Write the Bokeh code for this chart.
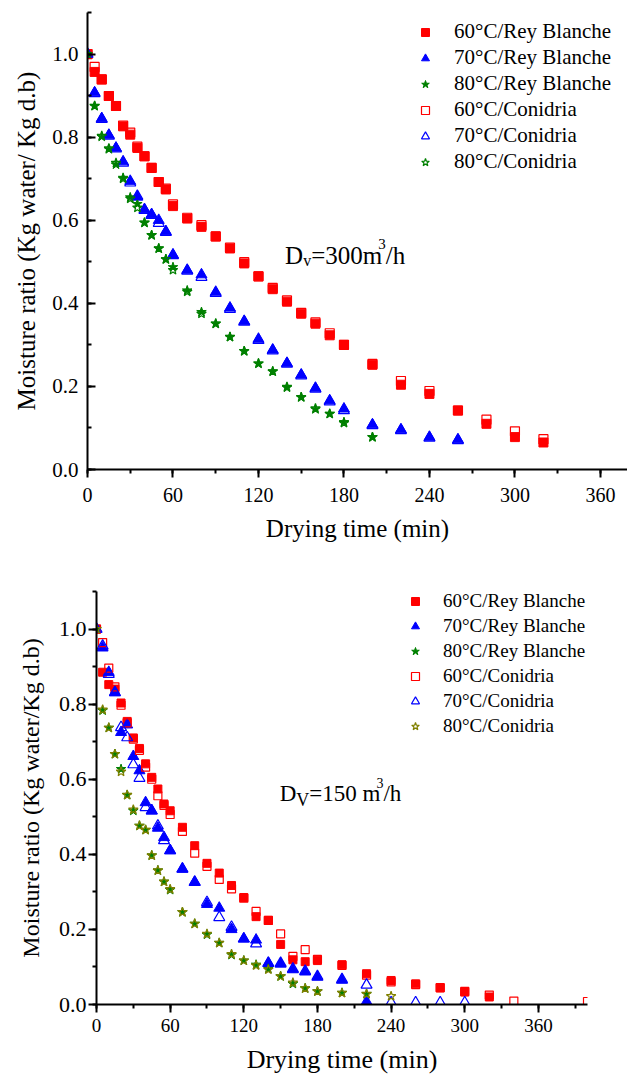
from bokeh.plotting import figure
from bokeh.layouts import column, row
from bokeh.models import (Range1d, SingleIntervalTicker, PrintfTickFormatter,
                          Legend, LegendItem, Label)
from bokeh.embed import file_html
from bokeh.resources import INLINE

FONT = "Liberation Serif"
RED = "#FF0000"
BLUE = "#0000FF"
GREEN = "#008000"
OLIVE = "#808000"

# ---------------- Data: Dv = 300 m3/h (top panel) ----------------
t60_300 = [0, 5, 10, 15, 20, 25, 30, 35, 40, 45, 50, 55, 60, 70, 80, 90, 100, 110, 120,
           130, 140, 150, 160, 170, 180, 200, 220, 240, 260, 280, 300, 320]
mr60_rb_300 = [1.0, 0.957, 0.939, 0.899, 0.875, 0.826, 0.806, 0.774, 0.754, 0.726, 0.692,
               0.674, 0.634, 0.604, 0.584, 0.561, 0.532, 0.496, 0.465, 0.434, 0.404, 0.375,
               0.351, 0.323, 0.300, 0.252, 0.204, 0.182, 0.142, 0.110, 0.078, 0.065]
mr60_co_300 = [1.0, 0.969, 0.939, 0.899, 0.875, 0.828, 0.811, 0.777, 0.754, 0.726, 0.692,
               0.676, 0.638, 0.606, 0.588, 0.561, 0.534, 0.499, 0.465, 0.437, 0.407, 0.377,
               0.354, 0.328, 0.300, 0.254, 0.213, 0.189, 0.142, 0.120, 0.092, 0.073]

t70_300 = [0, 5, 10, 15, 20, 25, 30, 35, 40, 45, 50, 55, 60, 70, 80, 90, 100, 110, 120,
           130, 140, 150, 160, 170, 180, 200, 220, 240, 260]
mr70_rb_300 = [1.0, 0.907, 0.845, 0.805, 0.774, 0.741, 0.694, 0.656, 0.626, 0.614, 0.600,
               0.573, 0.517, 0.480, 0.469, 0.427, 0.389, 0.357, 0.314, 0.288, 0.256, 0.228,
               0.196, 0.166, 0.146, 0.108, 0.096, 0.078, 0.072]
mr70_co_300 = [1.0, 0.905, 0.843, 0.803, 0.772, 0.738, 0.690, 0.658, 0.624, 0.612, 0.593,
               0.571, 0.515, 0.478, 0.463, 0.424, 0.386, 0.355, 0.311, 0.286, 0.254, 0.226,
               0.194, 0.163, 0.142, 0.106, 0.094, 0.076, 0.070]

t80_300 = [0, 5, 10, 15, 20, 25, 30, 35, 40, 45, 50, 55, 60, 70, 80, 90, 100, 110, 120,
           130, 140, 150, 160, 170, 180, 200]
mr80_rb_300 = [1.0, 0.875, 0.801, 0.771, 0.734, 0.702, 0.655, 0.639, 0.594, 0.564, 0.532,
               0.506, 0.487, 0.431, 0.379, 0.351, 0.319, 0.285, 0.255, 0.236, 0.197, 0.174,
               0.145, 0.134, 0.114, 0.078]
mr80_co_300 = [1.0, 0.875, 0.803, 0.773, 0.738, 0.700, 0.652, 0.630, 0.594, 0.564, 0.532,
               0.506, 0.480, 0.428, 0.375, 0.351, 0.319, 0.285, 0.255, 0.236, 0.199, 0.174,
               0.147, 0.134, 0.112, 0.078]

# ---------------- Data: Dv = 150 m3/h (bottom panel) ----------------
t60_rb_150 = [0, 5, 10, 15, 20, 25, 30, 35, 40, 45, 50, 55, 60, 70, 80, 90, 100, 110, 120,
              130, 140, 150, 160, 170, 180, 200, 220, 240, 260, 280, 300, 320]
mr60_rb_150 = [1.0, 0.885, 0.852, 0.840, 0.803, 0.754, 0.710, 0.682, 0.641, 0.605, 0.574,
               0.534, 0.516, 0.472, 0.423, 0.376, 0.350, 0.317, 0.285, 0.234, 0.224, 0.160,
               0.119, 0.114, 0.117, 0.106, 0.082, 0.064, 0.055, 0.044, 0.033, 0.020]
t60_co_150 = [0, 5, 10, 15, 20, 25, 30, 35, 40, 45, 50, 55, 60, 70, 80, 90, 100, 110, 120,
              130, 140, 150, 160, 170, 180, 200, 220, 240, 260, 280, 300, 320, 340, 400]
mr60_co_150 = [1.0, 0.964, 0.896, 0.846, 0.797, 0.750, 0.707, 0.677, 0.632, 0.600, 0.556,
               0.530, 0.506, 0.461, 0.403, 0.368, 0.333, 0.308, 0.283, 0.248, 0.224, 0.188,
               0.128, 0.146, 0.120, 0.104, 0.078, 0.060, 0.053, 0.045, 0.035, 0.025, 0.009,
               0.008]

t70_rb_150 = [0, 5, 10, 15, 20, 25, 30, 35, 40, 45, 50, 55, 60, 70, 80, 90, 100, 110, 120,
              130, 140, 150, 160, 170, 180, 200, 220]
mr70_rb_150 = [1.0, 0.950, 0.885, 0.831, 0.725, 0.745, 0.661, 0.623, 0.538, 0.516, 0.470,
               0.445, 0.410, 0.361, 0.326, 0.267, 0.257, 0.200, 0.175, 0.172, 0.110, 0.108,
               0.093, 0.087, 0.073, 0.065, 0.008]
t70_co_150 = [0, 5, 10, 15, 20, 25, 30, 35, 40, 45, 50, 55, 60, 70, 80, 90, 100, 110, 120,
              130, 140, 150, 160, 170, 180, 200, 220, 240, 260, 280, 300]
mr70_co_150 = [1.0, 0.955, 0.880, 0.831, 0.738, 0.711, 0.639, 0.603, 0.525, 0.516, 0.476,
               0.437, 0.410, 0.361, 0.326, 0.272, 0.232, 0.206, 0.175, 0.162, 0.110, 0.110,
               0.095, 0.089, 0.075, 0.067, 0.052, 0.005, 0.005, 0.005, 0.005]

t80_rb_150 = [0, 5, 10, 15, 20, 25, 30, 35, 40, 45, 50, 55, 60, 70, 80, 90, 100, 110, 120,
              130, 140, 150, 160, 170, 180, 200, 220]
mr80_rb_150 = [1.0, 0.783, 0.737, 0.667, 0.627, 0.558, 0.516, 0.476, 0.465, 0.397, 0.357,
               0.327, 0.305, 0.246, 0.215, 0.186, 0.164, 0.132, 0.117, 0.106, 0.095, 0.075,
               0.055, 0.043, 0.035, 0.031, 0.028]
t80_co_150 = [0, 5, 10, 15, 20, 25, 30, 35, 40, 45, 50, 55, 60, 70, 80, 90, 100, 110, 120,
              130, 140, 150, 160, 170, 180, 200, 220, 240]
mr80_co_150 = [1.0, 0.785, 0.737, 0.667, 0.620, 0.558, 0.519, 0.476, 0.465, 0.397, 0.357,
               0.327, 0.307, 0.246, 0.215, 0.188, 0.164, 0.134, 0.117, 0.104, 0.093, 0.075,
               0.058, 0.043, 0.035, 0.031, 0.028, 0.022]

labels = ["60\u00b0C/Rey Blanche", "70\u00b0C/Rey Blanche", "80\u00b0C/Rey Blanche",
          "60\u00b0C/Conidria", "70\u00b0C/Conidria", "80\u00b0C/Conidria"]
x_ticks_interval = 60
y_ticks_interval = 0.2

EM = {'D': .722, 'v': .5, 'V': .722, '=': .564, '0': .5, '1': .5, '3': .5, '5': .5,
      'm': .778, ' ': .25, '/': .278, 'h': .5}


def text_width(s, size):
    return sum(EM.get(c, .5) for c in s) * size


def rich_label(p, x, y, parts):
    off = 0.0
    for txt, size, dy, kern in parts:
        off += kern
        p.add_layout(Label(x=x, y=y, x_offset=off, y_offset=dy, text=txt,
                           text_font=FONT, text_font_size=f"{size}px",
                           text_color="black", text_align="left",
                           text_baseline="alphabetic"))
        off += text_width(txt, size)


def make_fig(width, height, xend, borders, ylabel, tick_dir_in_y,
             xtick_font, ytick_font, xtitle_font, ytitle_font, y_standoff, x_standoff,
             ylab_standoff, xlab_standoff):
    left, right, top, bottom = borders
    p = figure(width=width, height=height, output_backend="svg", toolbar_location=None,
               x_range=Range1d(0, xend), y_range=Range1d(0, 1.1),
               min_border_left=left, min_border_right=right,
               min_border_top=top, min_border_bottom=bottom)
    p.xgrid.visible = False
    p.ygrid.visible = False
    p.outline_line_color = None
    p.background_fill_color = "white"
    p.border_fill_color = "white"
    p.xaxis.ticker = SingleIntervalTicker(interval=x_ticks_interval, num_minor_ticks=2)
    p.yaxis.ticker = SingleIntervalTicker(interval=y_ticks_interval, num_minor_ticks=2)
    p.xaxis.formatter = PrintfTickFormatter(format="%d")
    p.yaxis.formatter = PrintfTickFormatter(format="%.1f")
    for ax in (p.xaxis, p.yaxis):
        ax.axis_line_width = 2
        ax.axis_line_color = "black"
        ax.major_tick_line_width = 2
        ax.minor_tick_line_width = 2
        ax.major_tick_line_color = "black"
        ax.minor_tick_line_color = "black"
        ax.major_label_text_font = FONT
        ax.axis_label_text_font = FONT
        ax.axis_label_text_font_style = "normal"
        ax.axis_label_text_color = "black"
        ax.major_label_text_color = "black"
    p.xaxis.axis_label_text_font_size = f"{xtitle_font}px"
    p.yaxis.axis_label_text_font_size = f"{ytitle_font}px"
    p.xaxis.major_label_text_font_size = f"{xtick_font}px"
    p.yaxis.major_label_text_font_size = f"{ytick_font}px"
    p.xaxis.major_tick_in = 0
    p.xaxis.major_tick_out = 8
    p.xaxis.minor_tick_in = 0
    p.xaxis.minor_tick_out = 4
    if tick_dir_in_y:
        p.yaxis.major_tick_in = 8
        p.yaxis.major_tick_out = 0
        p.yaxis.minor_tick_in = 4
        p.yaxis.minor_tick_out = 0
    else:
        p.yaxis.major_tick_in = 0
        p.yaxis.major_tick_out = 8
        p.yaxis.minor_tick_in = 0
        p.yaxis.minor_tick_out = 4
    p.yaxis.major_label_standoff = y_standoff
    p.xaxis.major_label_standoff = x_standoff
    p.yaxis.axis_label_standoff = ylab_standoff
    p.xaxis.axis_label_standoff = xlab_standoff
    p.xaxis.axis_label = "Drying time (min)"
    p.yaxis.axis_label = ylabel
    return p


def add_series(p, series, legend_loc, glyph_spacing, standoff, font_px):
    items = []
    for (lab, t, v, marker, color, filled, size) in series:
        if filled:
            r = p.scatter(t, v, marker=marker, size=size, fill_color=color,
                          line_color=color, line_width=1)
        else:
            r = p.scatter(t, v, marker=marker, size=size, fill_color=None,
                          line_color=color, line_width=1.2)
        items.append(LegendItem(label=lab, renderers=[r]))
    leg = Legend(items=items, location=legend_loc,
                 label_text_font=FONT, label_text_font_size=f"{font_px}px",
                 label_text_color="black",
                 glyph_width=20, glyph_height=22, label_height=22,
                 spacing=glyph_spacing, padding=8, margin=0,
                 label_standoff=standoff,
                 background_fill_alpha=0, border_line_alpha=0)
    p.add_layout(leg)


# ---------------- Top figure ----------------
p1 = make_fig(627, 550, 379, (87, 0, 12, 81),
              "Moisture ratio (Kg water/ Kg d.b)", True,
              20, 21, 25, 25, 9, 10, 9, 10)
series1 = [
    (labels[0], t60_300, mr60_rb_300, "square", RED, True, 9),
    (labels[1], t70_300, mr70_rb_300, "triangle", BLUE, True, 11),
    (labels[2], t80_300, mr80_rb_300, "star", GREEN, True, 10),
    (labels[3], t60_300, mr60_co_300, "square", RED, False, 9),
    (labels[4], t70_300, mr70_co_300, "triangle", BLUE, False, 11),
    (labels[5], t80_300, mr80_co_300, "star", GREEN, False, 10),
]
add_series(p1, series1, (320, 287), 1, 19, 21)
rich_label(p1, 138.7, 0.5157, [("D", 25, 0, 0), ("v", 16, -5, 0), ("=300m", 25, 0, 0),
                               ("3", 15, 11, -4), ("/h", 25, 0, 0)])

# ---------------- Bottom figure ----------------
p2 = make_fig(627, 526, 400, (96, 40, 41, 72),
              "Moisture ratio (Kg water/Kg d.b)", False,
              19, 22, 26, 24, 2, 6, 12, 10)
series2 = [
    (labels[0], t60_rb_150, mr60_rb_150, "square", RED, True, 8),
    (labels[1], t70_rb_150, mr70_rb_150, "triangle", BLUE, True, 11),
    (labels[2], t80_rb_150, mr80_rb_150, "star", GREEN, True, 10),
    (labels[3], t60_co_150, mr60_co_150, "square", RED, False, 8),
    (labels[4], t70_co_150, mr70_co_150, "triangle", BLUE, False, 11),
    (labels[5], t80_co_150, mr80_co_150, "star", OLIVE, False, 10),
]
add_series(p2, series2, (301, 259), 3, 18, 19)
rich_label(p2, 149.3, 0.561, [("D", 23, 0, 0), ("V", 18, -6, 0), ("=150 m", 23, 0, 0),
                              ("3", 14, 11, -4), ("/h", 23, 0, 0)])

layout = column(row(p1), row(p2))
open("out.html", "w").write(file_html(layout, INLINE))
